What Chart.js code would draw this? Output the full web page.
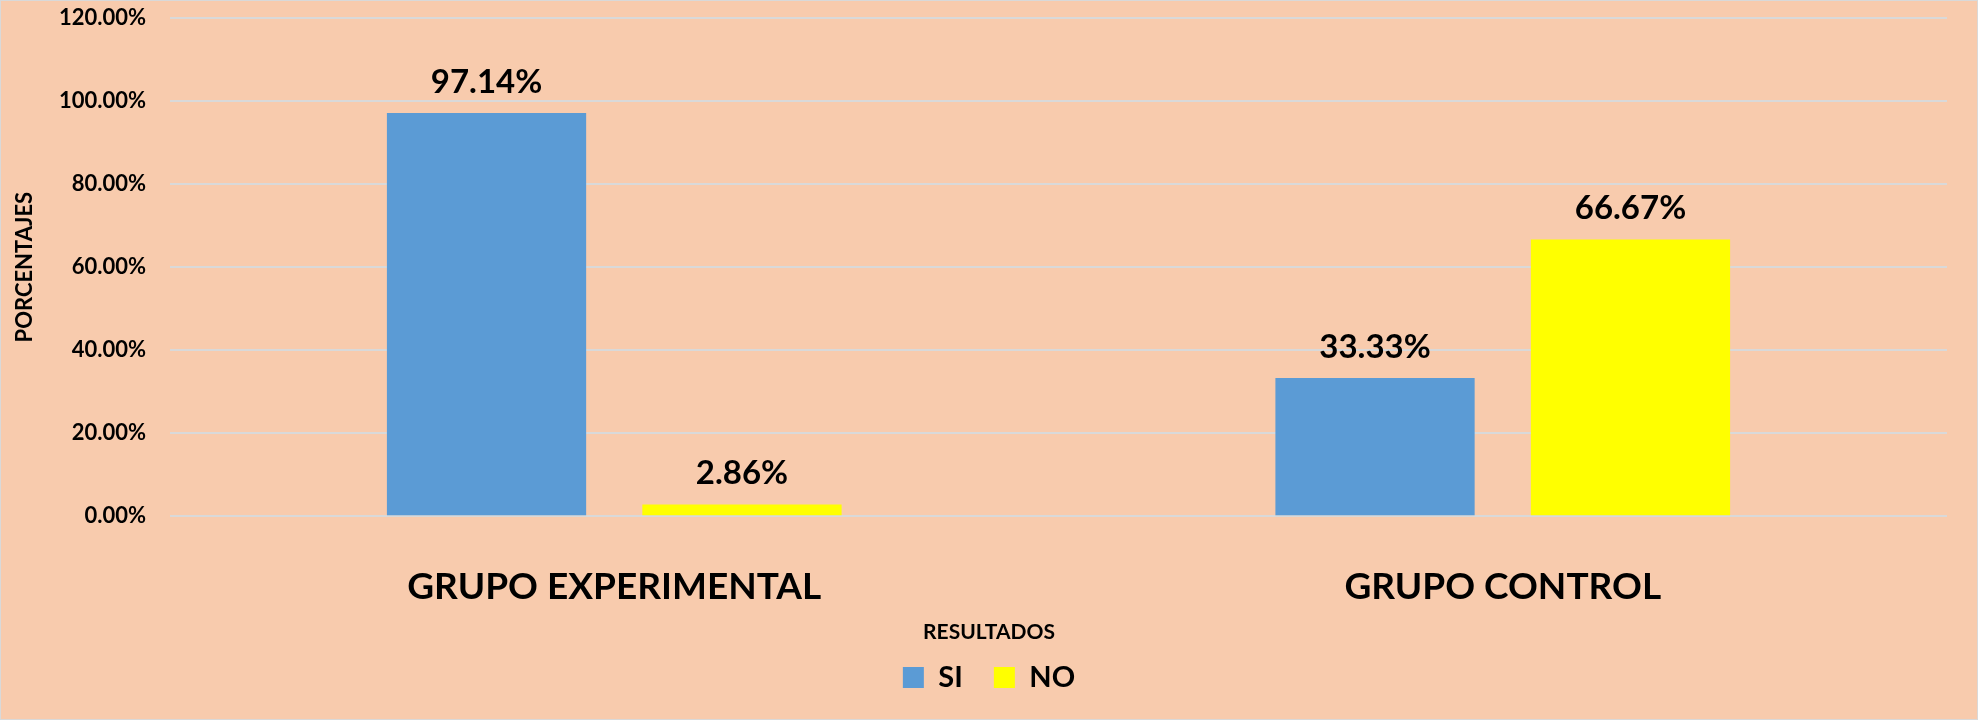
<!DOCTYPE html>
<html lang="es">
<head>
<meta charset="utf-8">
<title>Resultados</title>
<script src="https://cdn.jsdelivr.net/npm/chart.js@4.4.1/dist/chart.umd.min.js"></script>
<style>
  html, body { margin: 0; padding: 0; background: #ffffff; }
  #marco
  {
    position: absolute;
    left: 0;
    top: 0;
    width: 1978px;
    height: 720px;
    box-sizing: border-box;
    border: 1px solid #d9d9d9;
    background: #f8cbad;
  }
  #grafico { display: block; }
</style>
</head>
<body>
<div id="marco">
  <canvas id="grafico" width="1976" height="718"></canvas>
</div>
<script>
// Datos del gráfico
const categorias = ["GRUPO EXPERIMENTAL", "GRUPO CONTROL"];
const valoresSi = [97.14, 33.33];
const valoresNo = [2.86, 66.67];
const nombresSeries = ["SI", "NO"];

// Etiquetas encima de cada barra
const etiquetasBarras =
{
  id: "etiquetasBarras",
  afterDatasetsDraw(chart)
  {
    const ctx = chart.ctx;
    ctx.save();
    ctx.font = "bold 33px Lato";
    ctx.fillStyle = "#000000";
    ctx.textAlign = "center";
    ctx.textBaseline = "middle";
    chart.data.datasets.forEach((dataset, i) =>
    {
      chart.getDatasetMeta(i).data.forEach((barra, j) =>
      {
        ctx.fillText(dataset.data[j].toFixed(2) + "%", barra.x, barra.y - 31);
      });
    });
    ctx.restore();
  }
};

Chart.defaults.font.family = "Lato";
Chart.defaults.font.weight = "bold";
Chart.defaults.color = "#000000";

const ctx = document.getElementById("grafico").getContext("2d");

new Chart(ctx,
{
  type: "bar",
  data:
  {
    labels: categorias,
    datasets: [
    {
      label: nombresSeries[0],
      data: valoresSi,
      backgroundColor: "#5b9bd5",
      categoryPercentage: 0.575,
      barPercentage: 0.78
    },
    {
      label: nombresSeries[1],
      data: valoresNo,
      backgroundColor: "#ffff00",
      categoryPercentage: 0.575,
      barPercentage: 0.78
    }]
  },
  options:
  {
    responsive: false,
    animation: false,
    layout:
    {
      padding: { top: 17, right: 0, bottom: 17, left: 0 }
    },
    scales:
    {
      x:
      {
        grid: { display: false, drawTicks: false },
        border: { display: false },
        ticks:
        {
          padding: 49,
          font: { size: 37, weight: "bold" }
        },
        afterFit: (escala) => { escala.height = 105.5; }
      },
      y:
      {
        min: 0,
        max: 120,
        grid: { color: "#d9d9d9", lineWidth: 2, drawTicks: false },
        border: { display: false },
        ticks:
        {
          stepSize: 20,
          padding: 24,
          font: { size: 22, weight: "bold" },
          callback: (valor) => valor.toFixed(2) + "%"
        },
        title:
        {
          display: true,
          text: "PORCENTAJES",
          font: { size: 22, weight: "bold" },
          padding: { top: 11, bottom: 0 }
        },
        afterFit: (escala) =>
        {
          escala.width = 169;
          escala.paddingTop = 0;
          escala.paddingBottom = 0;
        }
      },
      // eje vacío a la derecha, solo deja el margen sin mover la leyenda
      margen:
      {
        type: "linear",
        position: "right",
        grid: { display: false, drawTicks: false },
        border: { display: false },
        ticks: { display: false },
        afterFit: (escala) =>
        {
          escala.width = 30;
          escala.paddingTop = 0;
          escala.paddingBottom = 0;
        }
      }
    },
    plugins:
    {
      legend:
      {
        position: "bottom",
        title:
        {
          display: true,
          text: "RESULTADOS",
          font: { size: 21, weight: "bold" },
          padding: { top: 0, bottom: -15 }
        },
        labels:
        {
          boxWidth: 21,
          boxHeight: 21,
          padding: 31,
          font: { size: 29, weight: "bold" }
        }
      },
      tooltip: { enabled: false }
    }
  },
  plugins: [etiquetasBarras]
});
</script>
</body>
</html>
